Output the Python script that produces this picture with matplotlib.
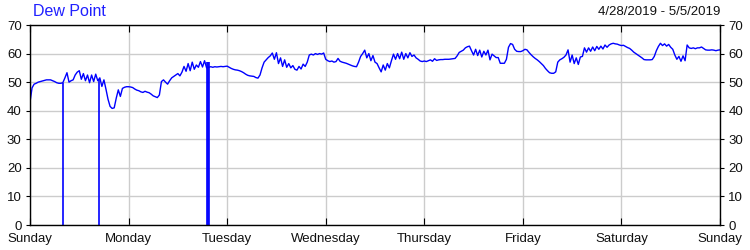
import numpy as np
import matplotlib
matplotlib.use("Agg")
from matplotlib import pyplot as plt

plt.rcParams['font.family'] = ['Liberation Sans', 'DejaVu Sans']

# dew point readings every 30 minutes, Sunday 0:00 -> next Sunday 0:00
sun = [43, 48, 49.3, 49.6, 50, 50.2, 50.4, 50.6, 50.8, 50.8, 50.8, 50.5,
       50.2, 49.8, 49.6, 49.6, 49.8, 51.5, 53.3, 50.0, 50.5, 50.8, 52.5, 53.5,
       54, 51, 53, 50.5, 52.5, 49.8, 52.5, 50.2, 52.8, 50.5, 51.5, 48.5,
       50.8, 47.5, 44, 41.5, 40.8, 41, 44.4, 47.3, 45, 47.8, 48.2, 48.4]
mon = [48.4, 48.3, 48.1, 47.6, 47.2, 47, 46.6, 46.4, 46.8, 46.5, 46.3, 45.8,
       45.2, 44.9, 44.6, 45.5, 50.2, 50.8, 50, 49.3, 50.5, 51.5, 52, 52.5,
       53, 52.2, 53.5, 55.5, 53.8, 56.5, 54, 57, 54.5, 56, 55.2, 57.2,
       55.3, 57.5, 55, 55.2, 55.4, 55.2, 55.4, 55.3, 55.4, 55.5, 55.4, 55.5]
tue = [55.6, 55.2, 54.8, 54.5, 54.3, 54.2, 54, 53.7, 53.3, 52.8, 52.4, 52.2,
       52.1, 52, 51.6, 51.4, 52.5, 55, 57, 57.8, 58.6, 59.2, 60.2, 58,
       60.3, 56.5, 58.5, 55.5, 57.8, 55.2, 56.5, 55, 55.8, 54.5, 54.2, 55.5,
       54.6, 56.3, 55.5, 57, 59.5, 59.8, 59.5, 60, 59.7, 60, 59.8, 60.2]
wed = [58, 57.5, 57.2, 57.4, 57, 57.2, 58.3, 57.3, 57, 56.8, 56.6, 56.3,
       56, 55.7, 55.5, 55.4, 57, 59, 60, 61.2, 58.5, 60, 57.5, 59.3,
       57, 56.5, 55, 53.6, 56, 54.2, 56.5, 55, 57.5, 59.8, 58, 60,
       58.2, 60.5, 58, 60, 58.5, 60.3, 59, 59.5, 58.5, 58, 57.4, 57.2]
thu = [57.4, 57.2, 57.5, 57.8, 57.3, 58.2, 57.6, 57.8, 57.9, 57.9, 58, 58,
       58, 58.1, 58.2, 58.3, 59.2, 60.4, 60.8, 61.2, 62, 62.4, 62.6, 61,
       59.5, 61.5, 59.3, 61.2, 58.8, 60.8, 59.5, 61.2, 57.8, 59.8, 59.2, 58.6,
       58.6, 56.6, 56.6, 56.6, 58, 62.2, 63.5, 63.2, 61.5, 60.8, 60.7, 60.7]
fri = [61, 61.5, 61.3, 60.4, 59.6, 58.9, 58.3, 57.8, 57.2, 56.5, 55.8, 54.8,
       54, 53.3, 53.1, 53.1, 53.6, 57, 57.8, 58.2, 58.7, 59.5, 61.3, 57,
       59.5, 56.5, 58.5, 56.2, 58.8, 59, 62, 60.5, 62, 60.8, 62.3, 61,
       62.5, 61.5, 62.6, 61.6, 63, 62.2, 63, 63.4, 63.6, 63.4, 63.3, 63]
sat = [62.8, 62.9, 62.5, 62.1, 61.8, 61.2, 60.5, 60, 59.5, 59, 58.5, 57.9,
       57.8, 57.8, 57.8, 57.9, 59, 61, 62.5, 63.6, 62.8, 63.4, 62.6, 63.2,
       62.2, 61.5, 59.5, 58, 59, 57.3, 59.2, 57.5, 63, 62, 61.8, 62,
       61.7, 62, 62, 62.3, 61.8, 61.3, 61.2, 61.2, 61.3, 61.2, 61, 61.2, 61.3]

# bad sensor readings (reported as 0) - hour and the level just before
zero_hours = [8.1, 16.9, 43.1, 43.3, 43.5]
zero_from = [49.8, 51.0, 57.0, 57.0, 57.0]

days = ["Sunday", "Monday", "Tuesday", "Wednesday", "Thursday", "Friday",
        "Saturday", "Sunday"]

values = np.array(sun + mon + tue + wed + thu + fri + sat)
hours = np.arange(len(values)) * 0.5

fig = plt.figure(figsize=(7.5, 2.5), dpi=100)
ax = fig.add_axes([0.04, 0.1, 0.92, 0.8])

ax.plot(hours, values, color='#0000ff', lw=1)
ax.vlines(zero_hours, 0, zero_from, color='#0000ff', lw=1.2)

ax.set_xlim(0, 168)
ax.set_ylim(0, 70)
ax.set_xticks(np.arange(0, 169, 24))
ax.set_xticklabels(days)
ax.set_yticks(np.arange(0, 71, 10))
ax.grid(True, color='#cccccc', lw=1)
ax.set_axisbelow(True)
for s in ax.spines.values():
    s.set_color('black')
    s.set_linewidth(1)

ax.tick_params(axis='x', direction='in', length=5, top=True, labelsize=9.5,
               pad=6, colors='black', labelcolor='#111111')
ax.tick_params(axis='y', direction='out', length=3, right=True, labelright=True,
               labelsize=9.5, pad=3, labelcolor='#111111')

fig.text(0.044, 0.952, "Dew Point", color='#2020ff', fontsize=11.5,
         ha='left', va='center')
fig.text(0.96, 0.952, "4/28/2019 - 5/5/2019", color='#111111', fontsize=9.5,
         ha='right', va='center')

fig.savefig("out.png", dpi=100)
